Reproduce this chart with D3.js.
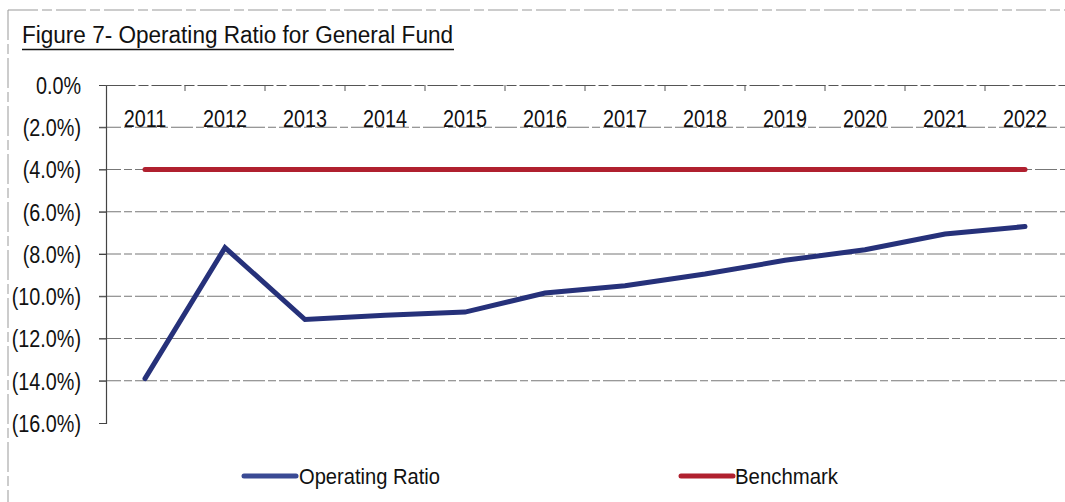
<!DOCTYPE html>
<html><head><meta charset="utf-8">
<script src="https://cdn.jsdelivr.net/npm/d3@7"></script>
<style>body{margin:0;background:#fff}svg{display:block}</style>
</head><body>
<script>
const years = ["2011","2012","2013","2014","2015","2016","2017","2018","2019","2020","2021","2022"];
const operatingRatio = [-13.9,-7.7,-11.1,-10.9,-10.75,-9.85,-9.5,-8.95,-8.3,-7.8,-7.05,-6.7];
const benchmark = [-4,-4,-4,-4,-4,-4,-4,-4,-4,-4,-4,-4];
const yTicks = [0,-2,-4,-6,-8,-10,-12,-14,-16];
const titleText = "Figure 7- Operating Ratio for General Fund";
const seriesNames = ["Operating Ratio","Benchmark"];

const W=1065,H=502;
const font = "'Liberation Sans Narrow','Arial Narrow','Liberation Sans',Arial,sans-serif";
const svg = d3.select("body").append("svg").attr("width",W).attr("height",H);
function squeeze(sel, k){ sel.each(function(){ const l=this.getComputedTextLength(); this.setAttribute("textLength", l*k); this.setAttribute("lengthAdjust","spacingAndGlyphs"); }); }

// outer frame (scanned border)
svg.append("line").attr("x1",8).attr("x2",W).attr("y1",10).attr("y2",10)
  .attr("stroke","#999").attr("stroke-width",1).attr("stroke-dasharray","30,4,10,4");
svg.append("line").attr("x1",8).attr("x2",8).attr("y1",10).attr("y2",H)
  .attr("stroke","#999").attr("stroke-width",1).attr("stroke-dasharray","30,4,10,4");

// title
svg.append("text").attr("x",22).attr("y",43).text(titleText)
  .attr("font-family",font).attr("font-size",23).attr("fill","#111")
  .attr("textLength",431).attr("lengthAdjust","spacingAndGlyphs");
svg.append("line").attr("x1",22).attr("x2",454).attr("y1",49.5).attr("y2",49.5)
  .attr("stroke","#111").attr("stroke-width",1.5);

const x = d3.scaleBand().domain(years).range([105,1065]);
const y = d3.scaleLinear().domain([0,-16]).range([85,423]);

// gridlines
svg.append("g").selectAll("line").data(yTicks.slice(1,8)).join("line")
  .attr("x1",99).attr("x2",W).attr("y1",d=>y(d)).attr("y2",d=>y(d))
  .attr("stroke","#777").attr("stroke-width",1).attr("stroke-dasharray","22,3,8,3");

// y axis
const yAxis = svg.append("g").attr("transform","translate(106,0)")
  .call(d3.axisLeft(y).tickValues(yTicks).tickSize(7).tickPadding(18)
    .tickFormat(d=> d===0 ? "0.0%" : "(" + Math.abs(d).toFixed(1) + "%)"));
yAxis.select(".domain").attr("stroke","#444").attr("stroke-width",1.2);
yAxis.selectAll(".tick line").attr("stroke","#444");
yAxis.selectAll("text").attr("font-family",font).attr("font-size",23).attr("fill","#111").attr("dy","0.36em");
squeeze(yAxis.selectAll("text"), 0.86);

// x axis at top (0% line)
const xAxis = svg.append("g").attr("transform",`translate(0,${y(0)})`)
  .call(d3.axisBottom(x).tickSize(0).tickPadding(26));
xAxis.select(".domain").attr("stroke","#555").attr("stroke-width",1.2).attr("stroke-dasharray","30,3,10,3");
xAxis.selectAll("text").attr("font-family",font).attr("font-size",23).attr("fill","#111");
squeeze(xAxis.selectAll("text"), 0.86);
// tick marks between categories
svg.append("g").selectAll("line").data(years.slice(1)).join("line")
  .attr("x1",d=>x(d)).attr("x2",d=>x(d)).attr("y1",y(0)).attr("y2",y(0)+6)
  .attr("stroke","#555").attr("stroke-width",1);

const line = d3.line().x((d,i)=>x(years[i])+x.bandwidth()/2).y(d=>y(d));
svg.append("path").datum(benchmark).attr("d",line).attr("fill","none")
  .attr("stroke","#b0202f").attr("stroke-width",5).attr("stroke-linecap","round");
svg.append("path").datum(operatingRatio).attr("d",line).attr("fill","none")
  .attr("stroke","#26317a").attr("stroke-width",5).attr("stroke-linecap","round").attr("stroke-linejoin","miter");

// legend
const legend = [
  {name:seriesNames[0],color:"#3a4a94",x1:244,x2:296,tx:299,tw:141},
  {name:seriesNames[1],color:"#b0202f",x1:681,x2:733,tx:735,tw:103}
];
const lg = svg.append("g").selectAll("g").data(legend).join("g");
lg.append("line").attr("x1",d=>d.x1).attr("x2",d=>d.x2).attr("y1",476).attr("y2",476)
  .attr("stroke",d=>d.color).attr("stroke-width",5).attr("stroke-linecap","round");
lg.append("text").attr("x",d=>d.tx).attr("y",484).text(d=>d.name)
  .attr("font-family",font).attr("font-size",22).attr("fill","#111")
  .attr("textLength",d=>d.tw).attr("lengthAdjust","spacingAndGlyphs");
</script>
</body></html>
